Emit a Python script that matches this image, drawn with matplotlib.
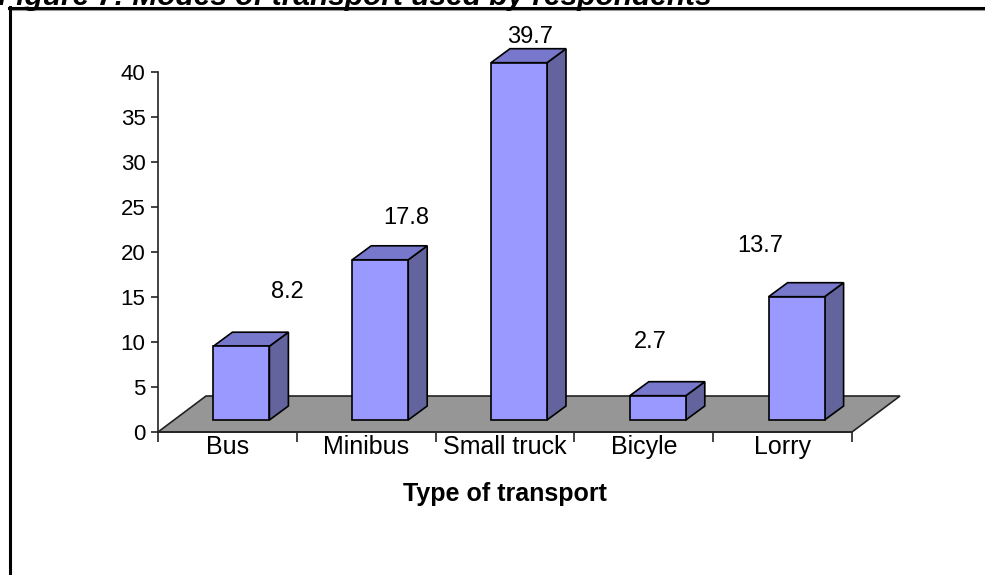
import numpy as np
import matplotlib
matplotlib.use("Agg")
import matplotlib.pyplot as plt
from matplotlib.patches import Polygon
from matplotlib.lines import Line2D

plt.rcParams['font.family'] = ['Liberation Sans', 'DejaVu Sans']

# data
categories = ["Bus", "Minibus", "Small truck", "Bicyle", "Lorry"]
values = [8.2, 17.8, 39.7, 2.7, 13.7]
yticks = [0, 5, 10, 15, 20, 25, 30, 35, 40]

# label offsets (data units) to mimic the 3d label placement
label_dx = [0.43, 0.29, 0.18, 0.05, -0.16]
label_dy = [7.4, 6.0, 4.2, 7.3, 7.0]

# colours
front_col = "#9999FF"
side_col = "#63639E"
top_col = "#7777CC"
floor_col = "#969696"

W, H = 985, 575
fig = plt.figure(figsize=(W / 100, H / 100), dpi=100)

# plot area in pixels: x 158..852, y 432 (0) .. 72 (40)
ax = fig.add_axes([158 / W, (H - 432) / H, 694 / W, 360 / H])
ax.set_xlim(-0.5, 4.5)
ax.set_ylim(0, 40)

px_x = 694 / 5.0   # pixels per category
px_y = 360 / 40.0  # pixels per unit

# depth offsets
fdx, fdy = 48 / px_x, 36 / px_y     # floor depth
bdx, bdy = 14 / px_x, 12 / px_y     # bar front offset into depth
sdx, sdy = 19 / px_x, 14 / px_y     # bar depth
bw = 56 / px_x

# floor
floor = Polygon([(-0.5, 0), (4.5, 0), (4.5 + fdx, fdy), (-0.5 + fdx, fdy)],
                closed=True, facecolor=floor_col, edgecolor="#222222",
                lw=1.2, clip_on=False, zorder=1)
ax.add_patch(floor)

x = np.arange(len(categories))
xb = x + bdx
ax.bar(xb, values, width=bw, bottom=bdy, color=front_col,
       edgecolor="black", linewidth=1.2, zorder=4, clip_on=False)

for i, v in enumerate(values):
    x0 = xb[i] - bw / 2
    x1 = xb[i] + bw / 2
    yb = bdy
    yt = bdy + v
    side = Polygon([(x1, yb), (x1 + sdx, yb + sdy), (x1 + sdx, yt + sdy), (x1, yt)],
                   closed=True, facecolor=side_col, edgecolor="black",
                   lw=1.2, clip_on=False, zorder=3)
    top = Polygon([(x0, yt), (x1, yt), (x1 + sdx, yt + sdy), (x0 + sdx, yt + sdy)],
                  closed=True, facecolor=top_col, edgecolor="black",
                  lw=1.2, clip_on=False, zorder=3)
    ax.add_patch(side)
    ax.add_patch(top)
    ax.text(i + label_dx[i], v + label_dy[i], f"{v}", ha="center", va="center",
            fontsize=17, zorder=5)

# axes styling
for s in ["top", "right"]:
    ax.spines[s].set_visible(False)
ax.spines["left"].set_color("#222222")
ax.spines["left"].set_linewidth(1.2)
ax.spines["bottom"].set_color("#222222")
ax.spines["bottom"].set_linewidth(1.2)
ax.spines["bottom"].set_zorder(2)

ax.set_yticks(yticks)
ax.set_yticklabels([str(t) for t in yticks], fontsize=16)
ax.tick_params(axis="y", direction="out", length=5, width=1.2, pad=4, color="#222222")

ax.set_xticks(np.arange(-0.5, 5.0, 1.0))
ax.set_xticklabels([])
ax.tick_params(axis="x", which="major", direction="out", length=7, width=1.2, color="#222222")
ax.set_xticks(x, minor=True)
ax.set_xticklabels(categories, minor=True, fontsize=18)
ax.tick_params(axis="x", which="minor", length=0, pad=2)

ax.set_xlabel("Type of transport", fontsize=18, fontweight="bold", labelpad=17)
ax.patch.set_visible(False)

# title (cut off by the page edge)
fig.text(-2 / W, 1 - 5 / H, "Figure 7: Modes of transport used by respondents",
         fontsize=21.5, fontweight="bold", style="italic", ha="left", va="baseline")

# frame
fig.add_artist(Line2D([9 / W, 1], [1 - 8 / H, 1 - 8 / H], transform=fig.transFigure,
                      color="black", lw=2.2))
fig.add_artist(Line2D([9 / W, 1], [1 - 10 / H, 1 - 10 / H], transform=fig.transFigure,
                      color="#999999", lw=0.8))
fig.add_artist(Line2D([9.5 / W, 9.5 / W], [0, 1 - 7 / H], transform=fig.transFigure,
                      color="black", lw=2.2))

fig.savefig("out.png", dpi=100)
